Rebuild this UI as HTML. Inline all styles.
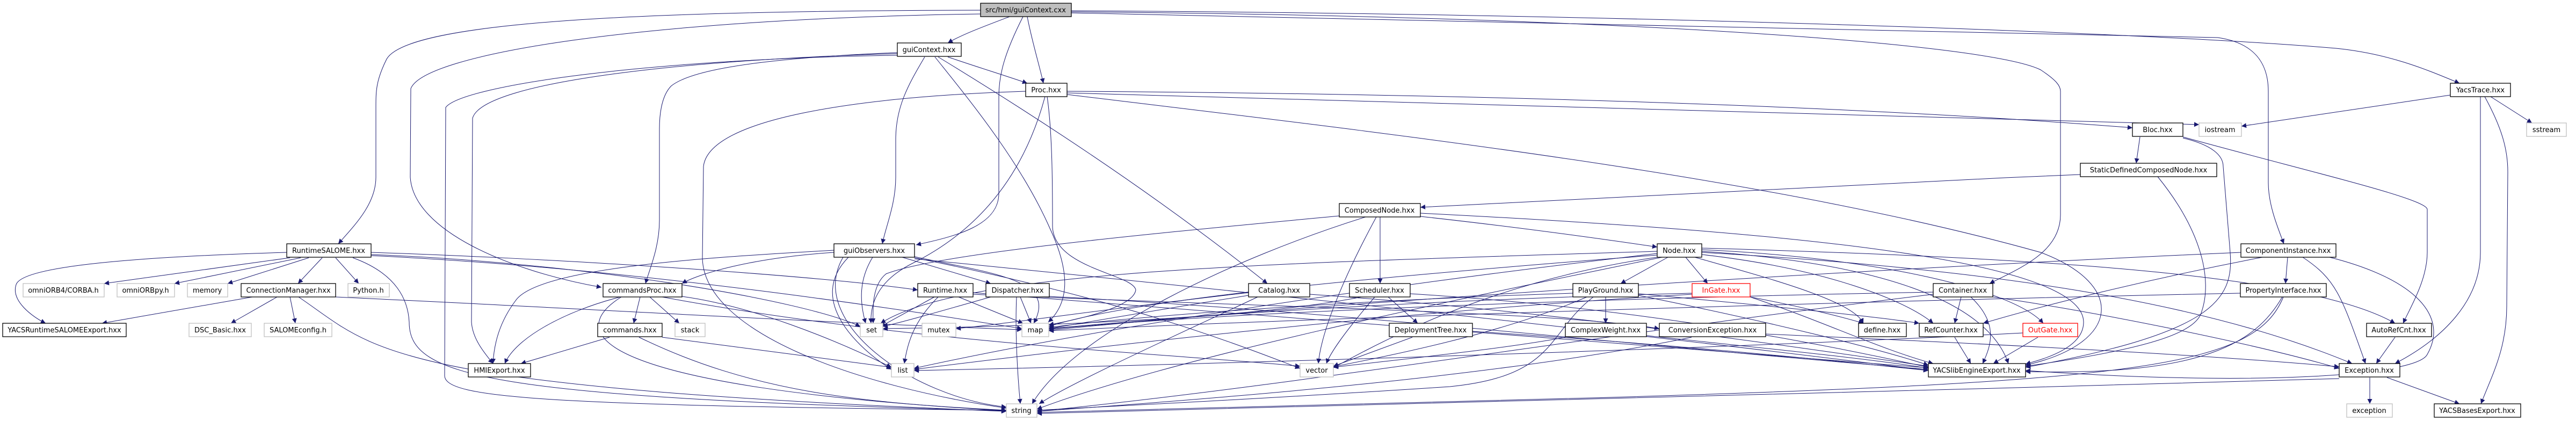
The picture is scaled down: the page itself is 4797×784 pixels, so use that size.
<!DOCTYPE html>
<html><head><meta charset="utf-8"><style>
html,body{margin:0;padding:0;background:#fff;}
svg{display:block;}
text{font-family:"DejaVu Sans","Liberation Sans",sans-serif;font-size:13px;fill:#000;}
</style></head><body>
<svg width="4797" height="784" viewBox="0 0 4797 784" xmlns="http://www.w3.org/2000/svg">
<defs>
<marker id="a" viewBox="0 0 10 10" refX="10" refY="5" markerWidth="11" markerHeight="9" markerUnits="userSpaceOnUse" orient="auto">
<path d="M0,0 L10,5 L0,10 z" fill="#191970"/>
</marker>
</defs>
<g fill="none" stroke="#191970" stroke-width="1" marker-end="url(#a)">
<path d="M1880,31 C1830,50 1790,65 1765,80"/>
<path d="M1913,31 C1920,70 1935,120 1943,155"/>
<path d="M1905,31 C1870,100 1860,140 1860,180 L1860,360 C1860,420 1780,440 1706,456"/>
<path d="M1826,19 C1200,20 760,40 720,110 C700,150 700,170 700,200 L700,330 C700,380 660,420 630,454"/>
<path d="M1826,26 C1200,35 790,100 765,165 L764,330 C770,430 950,505 1120,535"/>
<path d="M1995,20 C3000,25 4000,60 4350,90 C4450,100 4520,130 4580,155"/>
<path d="M1995,22 C3000,30 3700,80 3800,130 C3830,150 3837,160 3837,170 L3837,400 C3837,470 3760,500 3705,528"/>
<path d="M1995,24 C3000,40 3900,60 4130,70 C4200,80 4224,120 4224,170 L4224,340 C4224,380 4240,420 4253,454"/>
<path d="M1765,106 C1820,125 1870,140 1913,155"/>
<path d="M1722,106 C1690,160 1668,200 1668,260 L1668,330 C1668,380 1650,420 1643,454"/>
<path d="M1741,106 C1800,180 1900,300 1955,425 C1990,500 1995,560 1952,600"/>
<path d="M1747,106 C2000,260 2200,400 2360,528"/>
<path d="M1671,98 C1500,105 1300,120 1250,160 C1230,180 1228,220 1228,240 L1228,410 C1228,460 1210,500 1202,528"/>
<path d="M1671,100 C1300,110 900,150 880,220 L878,600 C880,630 900,655 918,677"/>
<path d="M1671,103 C1200,110 860,160 830,200 L828,700 C830,740 1000,755 1874,764"/>
<path d="M1910,170 C1600,180 1320,220 1310,310 L1308,480 C1310,620 1600,720 1874,760"/>
<path d="M1946,180 C1900,350 1800,440 1700,490 C1640,520 1620,560 1622,602"/>
<path d="M1950,180 C1960,250 1960,350 1960,420 C1960,500 2110,510 2115,540 C2110,575 1990,598 1953,605"/>
<path d="M1987,170 C2800,175 3500,200 3971,238"/>
<path d="M1987,173 C2800,190 3600,215 4095,232"/>
<path d="M1987,176 C2600,250 3300,330 3800,470 C3960,530 3950,640 3772,680"/>
<path d="M3985,255 L3978,304"/>
<path d="M4065,255 C4300,320 4520,370 4520,390 L4520,470 C4520,520 4490,570 4475,602"/>
<path d="M4065,257 C4120,270 4140,290 4140,310 L4153,470 C4160,560 4120,620 3772,684"/>
<path d="M3874,325 C3400,345 2900,370 2645,386"/>
<path d="M4018,329 C4100,430 4120,520 4100,580 C4090,620 4000,650 3772,682"/>
<path d="M2645,403 C2800,420 2950,440 3086,460"/>
<path d="M2570,404 L2570,528"/>
<path d="M2563,404 C2500,520 2460,620 2455,677"/>
<path d="M2494,402 C2200,430 1750,470 1650,510 C1625,530 1625,570 1626,602"/>
<path d="M2543,404 C2300,480 2000,620 1922,752"/>
<path d="M2645,397 C3300,430 3880,480 3880,600 C3880,650 3800,670 3772,678"/>
<path d="M3106,479 L3018,528"/>
<path d="M3139,479 L3180,528"/>
<path d="M3156,479 C3300,520 3450,560 3470,602"/>
<path d="M3169,474 C3400,500 3550,560 3600,602"/>
<path d="M3169,465 C3500,480 3750,540 3805,602"/>
<path d="M3169,470 C3700,500 4100,560 4380,677"/>
<path d="M3169,468 C3500,490 3700,560 3740,677"/>
<path d="M3169,462 C3800,480 4300,510 4460,602"/>
<path d="M3086,468 C2400,490 1800,500 1640,602"/>
<path d="M3086,475 C2500,520 2100,560 1953,608"/>
<path d="M3086,472 C2500,540 2000,620 1702,686"/>
<path d="M3095,479 C2800,540 2200,660 1931,762"/>
<path d="M3086,479 C2800,520 2600,620 2483,685"/>
<path d="M534,470 C200,480 40,500 30,530 C20,560 60,590 85,602"/>
<path d="M540,480 L194,528"/>
<path d="M560,480 L325,528"/>
<path d="M575,480 L424,528"/>
<path d="M600,480 L555,528"/>
<path d="M625,480 L668,528"/>
<path d="M691,470 C1000,480 1500,510 1709,540"/>
<path d="M657,480 C740,510 760,560 762,600 C762,700 900,740 1874,765"/>
<path d="M691,474 C1100,490 1500,560 1602,608"/>
<path d="M691,476 C1200,500 1700,580 1903,612"/>
<path d="M470,553 L190,602"/>
<path d="M516,553 L430,602"/>
<path d="M540,553 L550,602"/>
<path d="M556,553 C700,650 700,720 1874,766"/>
<path d="M625,553 C1000,570 1500,600 1903,614"/>
<path d="M1553,470 C1400,480 1300,510 1270,528"/>
<path d="M1553,466 C1300,480 1000,500 960,560 C930,600 920,640 918,677"/>
<path d="M1680,479 C1750,500 1800,515 1845,528"/>
<path d="M1625,479 C1600,520 1600,560 1612,602"/>
<path d="M1703,478 C1850,510 1970,520 1925,602"/>
<path d="M1580,479 C1500,560 1600,650 1660,688"/>
<path d="M1570,479 C1500,600 1700,740 1874,758"/>
<path d="M1703,480 C2100,560 2300,640 2421,686"/>
<path d="M1703,482 C2500,560 3200,640 3591,690"/>
<path d="M1192,553 L1180,602"/>
<path d="M1210,553 L1265,602"/>
<path d="M1155,553 C1050,580 960,630 940,677"/>
<path d="M1157,553 C1050,620 1100,720 1874,765"/>
<path d="M1270,552 C1400,570 1550,630 1660,684"/>
<path d="M1233,553 C1700,640 2200,660 2421,682"/>
<path d="M1135,628 L970,677"/>
<path d="M1190,628 C1400,730 1600,750 1874,764"/>
<path d="M1233,628 C1400,650 1550,670 1660,684"/>
<path d="M1740,553 L1640,608"/>
<path d="M1747,553 C1700,600 1690,640 1684,677"/>
<path d="M1785,553 L1905,602"/>
<path d="M2325,545 C2100,570 1900,600 1780,612"/>
<path d="M1812,545 C2500,600 3200,650 3591,685"/>
<path d="M1812,548 C2300,570 2900,580 3090,612"/>
<path d="M1845,553 C1750,580 1680,600 1644,608"/>
<path d="M1900,553 L1920,602"/>
<path d="M1893,553 C1890,620 1895,700 1900,752"/>
<path d="M1954,552 C2500,580 3000,640 3591,688"/>
<path d="M2325,550 C2200,570 2050,595 1953,612"/>
<path d="M2342,553 C2200,620 2000,710 1935,752"/>
<path d="M2439,548 C2900,580 3300,640 3591,682"/>
<path d="M2585,553 L2640,602"/>
<path d="M2560,553 C2520,600 2480,650 2470,677"/>
<path d="M2535,553 C2300,600 1800,610 1644,612"/>
<path d="M2626,547 C3000,570 3300,620 3591,684"/>
<path d="M2630,628 L2483,682"/>
<path d="M2742,617 C3100,640 3400,670 3591,690"/>
<path d="M2990,553 L2990,602"/>
<path d="M2955,553 C2800,620 2600,660 2483,683"/>
<path d="M2967,553 C2880,620 2900,700 2700,720 C2400,740 2100,755 1931,764"/>
<path d="M2929,546 C2500,560 2100,590 1953,610"/>
<path d="M3051,547 C3300,570 3500,590 3574,602"/>
<path d="M3051,550 C3300,600 3500,650 3591,680"/>
<path d="M2915,628 C2800,650 2600,670 2483,684"/>
<path d="M3066,625 C3300,650 3500,670 3591,686"/>
<path d="M3288,622 C3700,640 4100,660 4356,683"/>
<path d="M3150,628 C2800,700 2300,740 1931,766"/>
<path d="M3259,553 C3350,570 3430,590 3470,602"/>
<path d="M3151,548 C2600,580 2000,650 1702,688"/>
<path d="M3259,553 C3400,600 3500,650 3600,677"/>
<path d="M3151,546 C2600,560 2200,590 1953,612"/>
<path d="M3652,553 L3640,602"/>
<path d="M3670,553 C3720,600 3710,640 3692,677"/>
<path d="M3600,544 C3000,555 2300,580 1953,613"/>
<path d="M3600,548 C3000,620 2400,720 1931,766"/>
<path d="M3711,553 C3900,580 4200,640 4356,686"/>
<path d="M3640,628 L3670,677"/>
<path d="M3795,628 L3712,677"/>
<path d="M3767,620 C3200,650 2200,680 1702,690"/>
<path d="M4260,479 L4256,528"/>
<path d="M4213,479 C4000,520 3800,570 3693,602"/>
<path d="M4288,479 C4350,520 4360,550 4405,677"/>
<path d="M4338,479 C4500,520 4560,590 4520,660 C4500,700 4200,720 3772,690"/>
<path d="M4173,470 C3500,500 2500,560 1953,615"/>
<path d="M4172,546 C3500,560 2500,590 1953,616"/>
<path d="M4250,553 C4200,640 4100,700 3772,692"/>
<path d="M4252,553 C4200,680 4000,710 3000,740 C2500,755 2100,765 1931,768"/>
<path d="M4460,628 L4425,677"/>
<path d="M4413,703 L4413,752"/>
<path d="M4445,703 L4580,752"/>
<path d="M4356,705 C3500,730 2500,755 1931,770"/>
<path d="M4563,177 L4174,235"/>
<path d="M4638,180 L4715,229"/>
<path d="M4619,180 L4619,470 C4619,560 4550,630 4460,677"/>
<path d="M4627,180 C4660,240 4670,280 4670,320 L4668,570 C4668,650 4640,700 4620,752"/>
</g>
<g stroke-width="1.3" fill="#fff">
<rect x="1826" y="6" width="169" height="25" fill="#bfbfbf" stroke="#000"/>
<rect x="1671" y="80" width="119" height="25" stroke="#000"/>
<rect x="1910" y="155" width="77" height="25" stroke="#000"/>
<rect x="4563" y="155" width="112" height="25" stroke="#000"/>
<rect x="3971" y="229" width="94" height="25" stroke="#000"/>
<rect x="4095" y="229" width="79" height="25" stroke="#bfbfbf"/>
<rect x="4705" y="229" width="74" height="25" stroke="#bfbfbf"/>
<rect x="3874" y="304" width="254" height="25" stroke="#000"/>
<rect x="2494" y="379" width="151" height="25" stroke="#000"/>
<rect x="534" y="454" width="157" height="25" stroke="#000"/>
<rect x="1553" y="454" width="150" height="25" stroke="#000"/>
<rect x="3086" y="454" width="83" height="25" stroke="#000"/>
<rect x="4173" y="454" width="177" height="25" stroke="#000"/>
<rect x="43" y="528" width="151" height="25" stroke="#bfbfbf"/>
<rect x="218" y="528" width="107" height="25" stroke="#bfbfbf"/>
<rect x="349" y="528" width="75" height="25" stroke="#bfbfbf"/>
<rect x="449" y="528" width="176" height="25" stroke="#000"/>
<rect x="648" y="528" width="77" height="25" stroke="#bfbfbf"/>
<rect x="1123" y="528" width="147" height="25" stroke="#000"/>
<rect x="1709" y="528" width="103" height="25" stroke="#000"/>
<rect x="1836" y="528" width="118" height="25" stroke="#000"/>
<rect x="2325" y="528" width="114" height="25" stroke="#000"/>
<rect x="2513" y="528" width="113" height="25" stroke="#000"/>
<rect x="2929" y="528" width="122" height="25" stroke="#000"/>
<rect x="3151" y="528" width="108" height="25" stroke="#ff0000"/>
<rect x="3600" y="528" width="111" height="25" stroke="#000"/>
<rect x="4172" y="528" width="160" height="25" stroke="#000"/>
<rect x="5" y="602" width="230" height="25" stroke="#000"/>
<rect x="352" y="602" width="116" height="25" stroke="#bfbfbf"/>
<rect x="492" y="602" width="126" height="25" stroke="#bfbfbf"/>
<rect x="1113" y="602" width="120" height="25" stroke="#000"/>
<rect x="1257" y="602" width="56" height="25" stroke="#bfbfbf"/>
<rect x="1602" y="602" width="42" height="25" stroke="#bfbfbf"/>
<rect x="1717" y="602" width="63" height="25" stroke="#bfbfbf"/>
<rect x="1903" y="602" width="50" height="25" stroke="#bfbfbf"/>
<rect x="2587" y="602" width="155" height="25" stroke="#000"/>
<rect x="2915" y="602" width="151" height="25" stroke="#000"/>
<rect x="3090" y="602" width="198" height="25" stroke="#000"/>
<rect x="3461" y="602" width="89" height="25" stroke="#000"/>
<rect x="3574" y="602" width="119" height="25" stroke="#000"/>
<rect x="3767" y="602" width="102" height="25" stroke="#ff0000"/>
<rect x="4407" y="602" width="121" height="25" stroke="#000"/>
<rect x="872" y="677" width="116" height="25" stroke="#000"/>
<rect x="1660" y="677" width="42" height="25" stroke="#bfbfbf"/>
<rect x="2421" y="677" width="62" height="25" stroke="#bfbfbf"/>
<rect x="3591" y="677" width="181" height="25" stroke="#000"/>
<rect x="4356" y="677" width="113" height="25" stroke="#000"/>
<rect x="1874" y="752" width="57" height="25" stroke="#bfbfbf"/>
<rect x="4370" y="752" width="85" height="25" stroke="#bfbfbf"/>
<rect x="4533" y="752" width="161" height="25" stroke="#000"/>
</g>
<g text-anchor="middle">
<text x="1910" y="23">src/hmi/guiContext.cxx</text>
<text x="1730" y="97">guiContext.hxx</text>
<text x="1948" y="172">Proc.hxx</text>
<text x="4619" y="172">YacsTrace.hxx</text>
<text x="4018" y="246">Bloc.hxx</text>
<text x="4134" y="246">iostream</text>
<text x="4742" y="246">sstream</text>
<text x="4001" y="321">StaticDefinedComposedNode.hxx</text>
<text x="2569" y="396">ComposedNode.hxx</text>
<text x="612" y="471">RuntimeSALOME.hxx</text>
<text x="1628" y="471">guiObservers.hxx</text>
<text x="3127" y="471">Node.hxx</text>
<text x="4261" y="471">ComponentInstance.hxx</text>
<text x="118" y="545">omniORB4/CORBA.h</text>
<text x="271" y="545">omniORBpy.h</text>
<text x="386" y="545">memory</text>
<text x="537" y="545">ConnectionManager.hxx</text>
<text x="686" y="545">Python.h</text>
<text x="1196" y="545">commandsProc.hxx</text>
<text x="1760" y="545">Runtime.hxx</text>
<text x="1895" y="545">Dispatcher.hxx</text>
<text x="2382" y="545">Catalog.hxx</text>
<text x="2569" y="545">Scheduler.hxx</text>
<text x="2990" y="545">PlayGround.hxx</text>
<text x="3205" y="545" style="fill:#ff0000">InGate.hxx</text>
<text x="3655" y="545">Container.hxx</text>
<text x="4252" y="545">PropertyInterface.hxx</text>
<text x="120" y="619">YACSRuntimeSALOMEExport.hxx</text>
<text x="410" y="619">DSC_Basic.hxx</text>
<text x="555" y="619">SALOMEconfig.h</text>
<text x="1173" y="619">commands.hxx</text>
<text x="1285" y="619">stack</text>
<text x="1623" y="619">set</text>
<text x="1748" y="619">mutex</text>
<text x="1928" y="619">map</text>
<text x="2664" y="619">DeploymentTree.hxx</text>
<text x="2990" y="619">ComplexWeight.hxx</text>
<text x="3189" y="619">ConversionException.hxx</text>
<text x="3505" y="619">define.hxx</text>
<text x="3633" y="619">RefCounter.hxx</text>
<text x="3818" y="619" style="fill:#ff0000">OutGate.hxx</text>
<text x="4467" y="619">AutoRefCnt.hxx</text>
<text x="930" y="694">HMIExport.hxx</text>
<text x="1681" y="694">list</text>
<text x="2452" y="694">vector</text>
<text x="3681" y="694">YACSlibEngineExport.hxx</text>
<text x="4412" y="694">Exception.hxx</text>
<text x="1902" y="769">string</text>
<text x="4412" y="769">exception</text>
<text x="4613" y="769">YACSBasesExport.hxx</text>
</g>
</svg>
</body></html>
